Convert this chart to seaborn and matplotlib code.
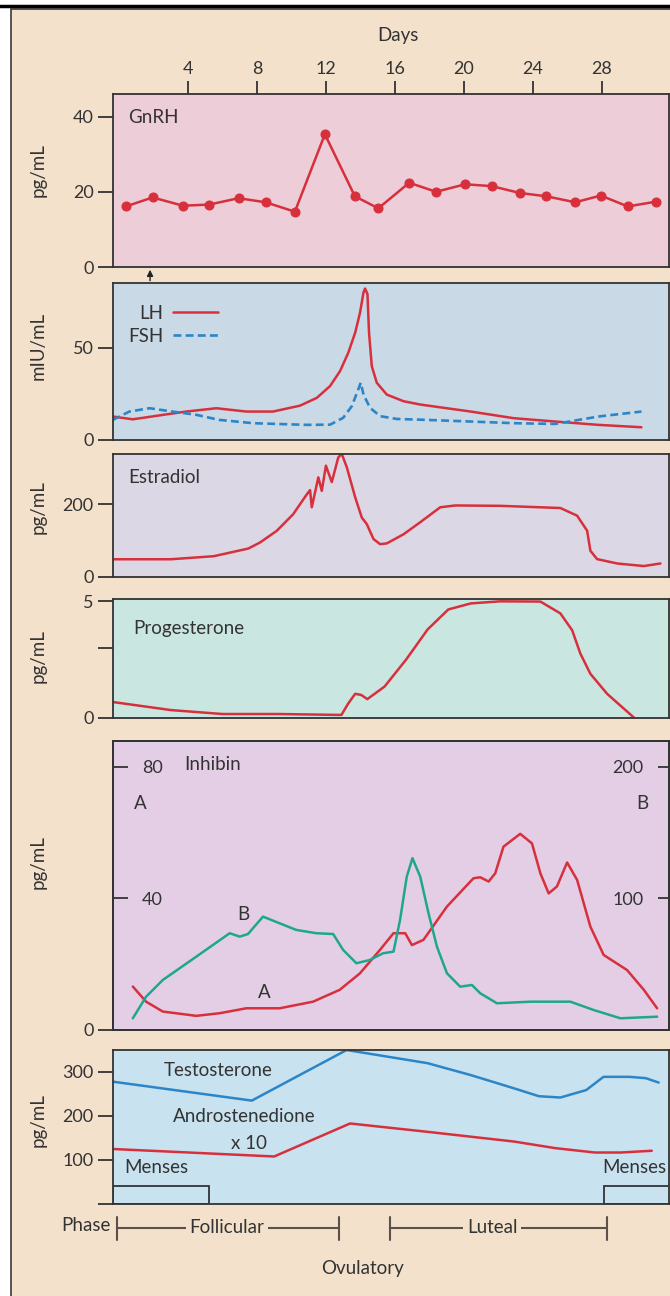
import matplotlib
matplotlib.use("Agg")
import matplotlib.pyplot as plt
import matplotlib.transforms as mtrans
from matplotlib.patches import Rectangle
from matplotlib.lines import Line2D
import seaborn as sns

sns.set_style("ticks")
plt.rcParams['font.family'] = ['Lato', 'DejaVu Sans']

# ---------------- data ----------------
day_ticks = [4, 8, 12, 16, 20, 24, 28]

gnrh_day = [0.39, 1.95, 3.7, 5.24, 6.93, 8.51, 10.2, 11.94, 13.68, 15.04, 16.83, 18.39,
            20.08, 21.62, 23.23, 24.79, 26.46, 27.94, 29.51, 31.17]
gnrh_val = [16.1, 18.5, 16.3, 16.6, 18.3, 17.2, 14.7, 35.3, 18.8, 15.6, 22.4, 20.0,
            22.0, 21.5, 19.7, 18.8, 17.2, 19.0, 16.1, 17.4]

lh_day = [-0.36, 0.8, 2.54, 3.9, 5.64, 7.38, 8.93, 10.5, 11.47, 12.24, 12.82, 13.3, 13.7,
          13.98, 14.18, 14.27, 14.41, 14.5, 14.66, 14.95, 15.53, 16.5, 17.47, 20.4, 22.9,
          25.3, 27.8, 30.3]
lh_val = [12.7, 11.2, 13.6, 15.4, 17.2, 15.4, 15.4, 18.6, 22.8, 29.2, 37.3, 47.3, 58.2,
          69.0, 79.9, 82.0, 79.0, 58.2, 40.0, 31.0, 24.6, 21.0, 19.2, 15.4, 11.8,
          10.0, 8.2, 6.9]

fsh_day = [-0.36, 0.6, 1.77, 3.1, 4.5, 5.8, 7.77, 10.87, 12.24, 13.0, 13.5, 13.8, 14.02,
           14.18, 14.56, 15.15, 16.1, 17.5, 20.4, 22.9, 25.3, 27.8, 30.3]
fsh_val = [10.9, 15.4, 17.2, 15.4, 13.6, 10.9, 9.1, 8.2, 8.3, 12.0, 18.3, 25.5, 31.0,
           24.6, 17.4, 12.9, 11.4, 11.0, 10.0, 9.1, 8.7, 12.7, 15.4]

e2_day = [-0.3, 3.0, 5.5, 7.5, 8.18, 9.15, 10.1, 10.9, 11.08, 11.18, 11.56, 11.76, 12.0,
          12.34, 12.72, 12.92, 13.21, 13.7, 14.08, 14.37, 14.76, 15.14, 15.53, 16.5, 17.47,
          18.63, 19.5, 22.1, 25.6, 26.57, 27.15, 27.34, 27.73, 28.9, 30.44, 31.4]
e2_val = [48.6, 48.6, 57, 78, 94.6, 126.5, 172, 227, 238, 191, 273, 236, 305,
          260, 328, 337, 301, 218, 163, 145, 104, 90, 92, 117, 150,
          191, 196, 195, 189, 168, 127, 72, 49, 37, 30, 37]

p4_day = [-0.3, 3.0, 6.0, 9.2, 12.9, 13.3, 13.7, 14.05, 14.4, 15.4, 16.65, 17.9, 19.1,
          20.4, 22.1, 24.44, 25.6, 26.28, 26.76, 27.34, 28.31, 29.86]
p4_val = [0.66, 0.32, 0.15, 0.15, 0.11, 0.61, 1.02, 0.97, 0.79, 1.33, 2.49, 3.79, 4.65,
          4.91, 5.0, 4.99, 4.48, 3.76, 2.75, 1.88, 1.02, 0.0]

inha_day = [0.8, 1.57, 2.54, 4.48, 5.84, 7.38, 9.32, 11.25, 12.8, 13.97, 15.13, 15.92,
            16.6, 16.99, 17.66, 19.02, 20.56, 20.95, 21.44, 21.82, 22.3, 23.27, 23.95,
            24.44, 24.92, 25.4, 25.99, 26.57, 27.34, 28.11, 29.47, 30.44, 31.21]
inha_val = [13.2, 8.6, 5.6, 4.3, 5.1, 6.6, 6.6, 8.6, 12.2, 17.2, 24.3, 29.4,
            29.4, 25.8, 27.4, 37.5, 46.1, 46.4, 45.1, 47.6, 55.7, 59.6, 56.7,
            47.6, 41.5, 43.6, 50.9, 45.6, 31.4, 22.8, 18.2, 12.2, 6.6]

inhb_day = [0.8, 1.57, 2.54, 4.48, 6.42, 7.0, 7.48, 8.35, 10.28, 11.45, 12.42, 13.0,
            13.77, 14.55, 15.32, 15.92, 16.3, 16.69, 17.02, 17.47, 17.95, 18.44, 19.02,
            19.79, 20.47, 20.95, 21.92, 23.86, 26.18, 27.53, 29.08, 31.21]
inhb_val = [8.9, 25.3, 38.0, 55.7, 73.5, 70.9, 72.9, 86.1, 76.0, 73.5, 72.9, 60.8,
            50.7, 53.2, 58.3, 59.5, 83.6, 116.5, 130.5, 116.5, 88.7, 63.3, 43.1,
            32.9, 34.2, 27.9, 20.3, 21.5, 21.5, 15.2, 8.9, 10.1]

testo_day = [-0.35, 7.7, 13.2, 17.9, 20.4, 22.9, 24.35, 25.6, 27.1, 28.1, 29.6, 30.55, 31.3]
testo_val = [278, 235, 350, 320, 293, 263, 245, 242, 259, 289, 289, 286, 276]

andro_day = [-0.35, 9.0, 13.4, 17.9, 22.9, 25.3, 27.6, 29.1, 30.9]
andro_val = [125, 108, 183, 164, 142, 127, 117, 117, 121]

menses_start = [-0.35, 28.15]
menses_end = [5.2, 33.0]
menses_height = 41.6

phase_names = ['Follicular', 'Luteal']
phase_start = [-0.1, 15.7]
phase_end = [12.75, 28.3]
phase_label_day = [6.25, 21.65]

# ---------------- style ----------------
W, H = 670, 1296
XMIN, XMAX = -0.35, 31.9
beige = '#F3E1CB'
dark = '#333333'
red = '#D7303C'
blue = '#2C85C7'
teal = '#1FA78E'
FS = 13.5
TS = 13

fig = plt.figure(figsize=(6.7, 12.96), dpi=100)
fig.patch.set_facecolor('white')
fig.add_artist(Rectangle((11 / W, -0.01), 1.0, 1 - 9 / H + 0.01, transform=fig.transFigure,
                         facecolor=beige, edgecolor='#3a3a3a', lw=1.2, zorder=0))
fig.add_artist(Line2D([0, 1], [1 - 6 / H] * 2, transform=fig.transFigure, color='black', lw=2.5))


def make_ax(top, bottom, bg):
    ax = fig.add_axes([113 / W, 1 - bottom / H, (669 - 113) / W, (bottom - top) / H])
    ax.set_facecolor(bg)
    for s in ax.spines.values():
        s.set_linewidth(1.3)
        s.set_color(dark)
        s.set_visible(True)
    return ax


def finish(ax, ylab, ycen):
    ax.set_xlim(XMIN, XMAX)
    ax.set_xlabel('')
    ax.tick_params(axis='x', which='both', bottom=False, top=False,
                   labelbottom=False, labeltop=False)
    ax.tick_params(axis='y', which='major', direction='out', length=11, width=1.3,
                   color=dark, pad=3, labelsize=TS, labelcolor=dark)
    ax.set_ylabel(ylab, fontsize=FS, color=dark)
    ax.yaxis.set_label_coords(-0.12, ycen)


# GnRH
ax1 = make_ax(94, 267, '#ECCDD8')
sns.lineplot(x=gnrh_day, y=gnrh_val, ax=ax1, color=red, lw=1.8, marker='o',
             markersize=6.5, markeredgecolor=red)
ax1.set_ylim(0, 46)
ax1.set_yticks([0, 20, 40])
finish(ax1, 'pg/mL', 0.56)
ax1.set_xticks(day_ticks)
ax1.tick_params(axis='x', top=True, labeltop=True, direction='out', length=9.5,
                width=1.3, color=dark, pad=3, labelsize=TS, labelcolor=dark)
ax1.text(0.027, 0.867, 'GnRH', transform=ax1.transAxes, fontsize=FS, color=dark,
         ha='left', va='center')
ax1.annotate('', xy=(1.8, 0.0), xycoords=('data', 'axes fraction'),
             xytext=(1.8, -0.095), textcoords=('data', 'axes fraction'),
             arrowprops=dict(arrowstyle='-|>', color='#222222', lw=1.0, mutation_scale=9),
             annotation_clip=False)
fig.text(398 / W, 1 - 35 / H, 'Days', ha='center', va='center', fontsize=FS, color=dark)

# LH / FSH
ax2 = make_ax(283, 440, '#C9D9E6')
sns.lineplot(x=lh_day, y=lh_val, ax=ax2, color=red, lw=1.8, label='LH')
sns.lineplot(x=fsh_day, y=fsh_val, ax=ax2, color=blue, lw=1.9, linestyle=(0, (3, 1.6)),
             label='FSH')
ax2.set_ylim(0, 85)
ax2.set_yticks([0, 50])
finish(ax2, 'mIU/mL', 0.6)
ax2.legend(markerfirst=False, frameon=False, loc='upper right',
           bbox_to_anchor=(0.189, 0.86), borderaxespad=0, borderpad=0,
           handlelength=2.4, handletextpad=0.5, labelspacing=0.3, fontsize=FS,
           labelcolor=dark)

# Estradiol
ax3 = make_ax(454, 577, '#DCD7E4')
sns.lineplot(x=e2_day, y=e2_val, ax=ax3, color=red, lw=1.8)
ax3.set_ylim(0, 337)
ax3.set_yticks([0, 200])
finish(ax3, 'pg/mL', 0.57)
ax3.text(0.027, 0.805, 'Estradiol', transform=ax3.transAxes, fontsize=FS, color=dark,
         ha='left', va='center')

# Progesterone
ax4 = make_ax(599, 717.5, '#C9E6E0')
sns.lineplot(x=p4_day, y=p4_val, ax=ax4, color=red, lw=1.8)
ax4.set_ylim(0, 5.1)
ax4.set_yticks([0, 3, 5], labels=['0', '', '5'])
finish(ax4, 'pg/mL', 0.52)
ax4.text(0.036, 0.755, 'Progesterone', transform=ax4.transAxes, fontsize=FS, color=dark,
         ha='left', va='center')

# Inhibin
ax5 = make_ax(741, 1030, '#E3CEE5')
sns.lineplot(x=inha_day, y=inha_val, ax=ax5, color=red, lw=1.8)
ax5.set_ylim(0, 87.8)
finish(ax5, 'pg/mL', 0.58)
ax5.set_yticks([40, 80])
ax5.set_yticks([0], labels=['0'], minor=True)
ax5.tick_params(axis='y', which='major', direction='in', length=11, width=1.3, pad=-36)
ax5.tick_params(axis='y', which='minor', direction='out', length=11, width=1.3,
                color=dark, pad=3, labelsize=TS, labelcolor=dark)
ax5b = ax5.twinx()
sns.lineplot(x=inhb_day, y=inhb_val, ax=ax5b, color=teal, lw=1.8)
ax5b.set_ylim(0, 87.8 * 2.5)
ax5b.set_xlim(XMIN, XMAX)
ax5b.set_yticks([100, 200])
ax5b.set_ylabel('')
ax5b.tick_params(axis='y', direction='in', length=8, width=1.3, color=dark, pad=-41,
                 labelsize=TS, labelcolor=dark)
for s in ax5b.spines.values():
    s.set_linewidth(1.3)
    s.set_color(dark)
ax5.text(0.128, 0.917, 'Inhibin', transform=ax5.transAxes, fontsize=FS, color=dark,
         ha='left', va='center')
ax5.text(0.05, 0.785, 'A', transform=ax5.transAxes, fontsize=FS, color=dark,
         ha='center', va='center')
ax5.text(0.953, 0.785, 'B', transform=ax5.transAxes, fontsize=FS, color=dark,
         ha='center', va='center')
ax5.text(0.235, 0.398, 'B', transform=ax5.transAxes, fontsize=FS, color=dark,
         ha='center', va='center')
ax5.text(0.273, 0.131, 'A', transform=ax5.transAxes, fontsize=FS, color=dark,
         ha='center', va='center')

# Testosterone / Androstenedione
ax6 = make_ax(1050, 1204, '#C8E2F0')
sns.lineplot(x=testo_day, y=testo_val, ax=ax6, color=blue, lw=1.8)
sns.lineplot(x=andro_day, y=andro_val, ax=ax6, color=red, lw=1.8)
ax6.set_ylim(0, 350)
ax6.set_yticks([0, 100, 200, 300], labels=['', '100', '200', '300'])
finish(ax6, 'pg/mL', 0.545)
for s, e in zip(menses_start, menses_end):
    ax6.add_patch(Rectangle((s, 0), e - s, menses_height, fill=False, edgecolor=dark,
                            lw=1.3, zorder=3))
ax6.text(0.092, 0.87, 'Testosterone', transform=ax6.transAxes, fontsize=FS, color=dark,
         ha='left', va='center')
ax6.text(0.108, 0.571, 'Androstenedione', transform=ax6.transAxes, fontsize=FS,
         color=dark, ha='left', va='center')
ax6.text(0.212, 0.39, 'x 10', transform=ax6.transAxes, fontsize=FS, color=dark,
         ha='left', va='center')
ax6.text(0.02, 0.234, 'Menses', transform=ax6.transAxes, fontsize=FS, color=dark,
         ha='left', va='center')
ax6.text(0.996, 0.234, 'Menses', transform=ax6.transAxes, fontsize=FS, color=dark,
         ha='right', va='center')

tr = mtrans.blended_transform_factory(ax6.transData, ax6.transAxes)
pc = '#5b514a'
for name, s, e, xm in zip(phase_names, phase_start, phase_end, phase_label_day):
    ax6.plot([s, e], [-0.154, -0.154], transform=tr, clip_on=False, color=pc, lw=1.5)
    for xx in (s, e):
        ax6.plot([xx, xx], [-0.084, -0.234], transform=tr, clip_on=False, color=pc, lw=1.5)
    ax6.text(xm, -0.154, name, transform=tr, ha='center', va='center', fontsize=FS,
             color=dark, bbox=dict(facecolor=beige, edgecolor='none', pad=2.5))
ax6.text(-0.5, -0.14, 'Phase', transform=tr, ha='right', va='center', fontsize=FS,
         color=dark)
ax6.text(14.15, -0.416, 'Ovulatory', transform=tr, ha='center', va='center', fontsize=FS,
         color=dark)

fig.savefig('out.png', dpi=100, facecolor=fig.get_facecolor())
